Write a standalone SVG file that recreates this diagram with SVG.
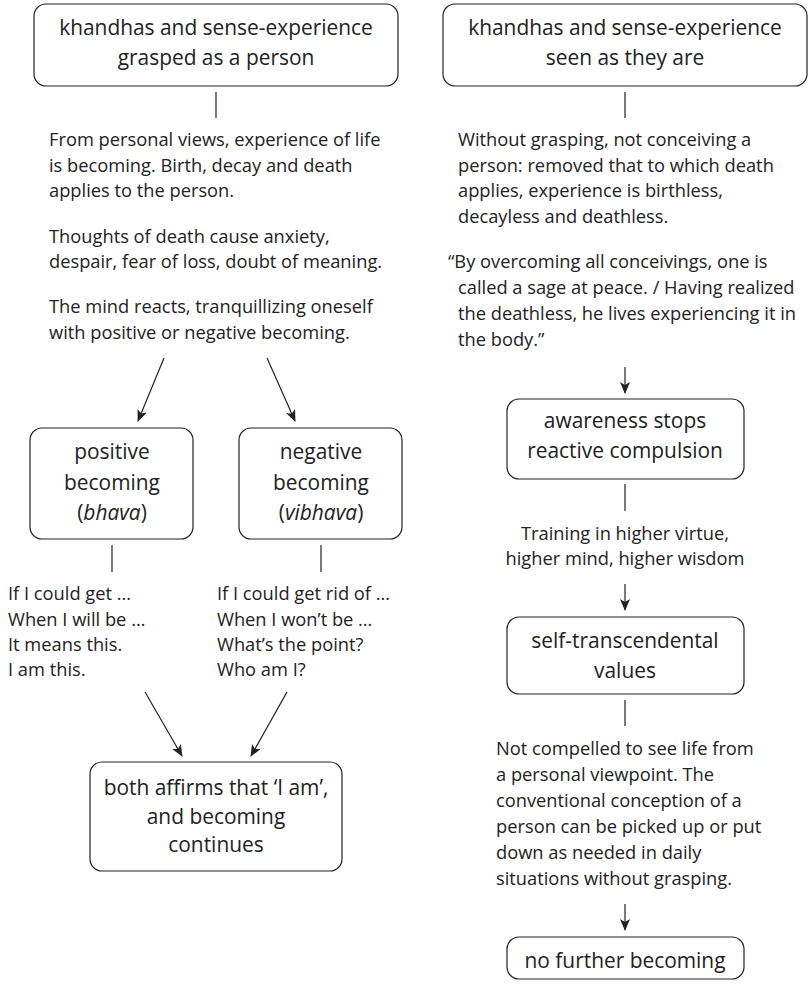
<svg xmlns="http://www.w3.org/2000/svg" width="809" height="984" viewBox="0 0 809 984">
<style>
.box{fill:#fff;stroke:#222;stroke-width:1.2}
.t{font-family:"Open Sans","Liberation Sans",sans-serif;fill:#222}
.b{font-size:20.9px;text-anchor:middle}
.p{font-size:18.3px}
.c{font-size:18.3px;text-anchor:middle}
.ln{stroke:#222;stroke-width:1.2;fill:none}
.ar{stroke:#222;stroke-width:1.2;fill:none;marker-end:url(#ah)}
</style>
<defs>
<marker id="ah" viewBox="0 0 12 10" refX="11" refY="5" markerWidth="12" markerHeight="10" markerUnits="userSpaceOnUse" orient="auto">
<path d="M0,0 L12,5 L0,10 L3,5 Z" fill="#222"/>
</marker>
</defs>
<rect width="809" height="984" fill="#fff"/>
<g id="connectors">
<line class="ln" x1="216" y1="92" x2="216" y2="118"/>
<line class="ln" x1="625" y1="92" x2="625" y2="118"/>
<line class="ar" x1="164" y1="358" x2="138" y2="421"/>
<line class="ar" x1="267" y1="358" x2="295" y2="421"/>
<line class="ln" x1="112" y1="545" x2="112" y2="572"/>
<line class="ln" x1="321" y1="545" x2="321" y2="572"/>
<line class="ar" x1="145" y1="692" x2="182" y2="756"/>
<line class="ar" x1="287" y1="692" x2="251" y2="756"/>
<line class="ar" x1="625" y1="367" x2="625" y2="393"/>
<line class="ln" x1="625" y1="484" x2="625" y2="511"/>
<line class="ar" x1="625" y1="584" x2="625" y2="610"/>
<line class="ln" x1="625" y1="700" x2="625" y2="726"/>
<line class="ar" x1="625" y1="904" x2="625" y2="930"/>
</g>
<g id="node-grasped">
<rect class="box" x="34" y="4" width="364" height="82" rx="12"/>
<text class="t b" x="216" y="35">khandhas and sense-experience</text>
<text class="t b" x="216" y="65">grasped as a person</text>
</g>
<g id="text-left">
<text class="t p" x="49" y="146">From personal views, experience of life</text>
<text class="t p" x="49" y="172">is becoming. Birth, decay and death</text>
<text class="t p" x="49" y="197">applies to the person.</text>
<text class="t p" x="49" y="243">Thoughts of death cause anxiety,</text>
<text class="t p" x="49" y="268">despair, fear of loss, doubt of meaning.</text>
<text class="t p" x="49" y="313">The mind reacts, tranquillizing oneself</text>
<text class="t p" x="49" y="339">with positive or negative becoming.</text>
</g>
<g id="node-positive">
<rect class="box" x="30" y="428" width="163" height="111" rx="12"/>
<text class="t b" x="112" y="459">positive</text>
<text class="t b" x="112" y="490">becoming</text>
<text class="t b" x="112" y="520">(<tspan font-style="italic">bhava</tspan>)</text>
</g>
<g id="node-negative">
<rect class="box" x="239" y="428" width="163" height="111" rx="12"/>
<text class="t b" x="321" y="459">negative</text>
<text class="t b" x="321" y="490">becoming</text>
<text class="t b" x="321" y="520">(<tspan font-style="italic">vibhava</tspan>)</text>
</g>
<g id="text-positive">
<text class="t p" x="8" y="600">If I could get …</text>
<text class="t p" x="8" y="626">When I will be …</text>
<text class="t p" x="8" y="651">It means this.</text>
<text class="t p" x="8" y="676">I am this.</text>
</g>
<g id="text-negative">
<text class="t p" x="217" y="600">If I could get rid of …</text>
<text class="t p" x="217" y="626">When I won’t be …</text>
<text class="t p" x="217" y="651">What’s the point?</text>
<text class="t p" x="217" y="676">Who am I?</text>
</g>
<g id="node-both">
<rect class="box" x="90" y="762" width="252" height="109" rx="12"/>
<text class="t b" x="216" y="795">both affirms that ‘I am’,</text>
<text class="t b" x="216" y="824">and becoming</text>
<text class="t b" x="216" y="852">continues</text>
</g>
<g id="node-seen">
<rect class="box" x="443" y="4" width="364" height="82" rx="12"/>
<text class="t b" x="625" y="35">khandhas and sense-experience</text>
<text class="t b" x="625" y="65">seen as they are</text>
</g>
<g id="text-right">
<text class="t p" x="458" y="146">Without grasping, not conceiving a</text>
<text class="t p" x="458" y="172">person: removed that to which death</text>
<text class="t p" x="458" y="197">applies, experience is birthless,</text>
<text class="t p" x="458" y="223">decayless and deathless.</text>
<text class="t p" x="448" y="268">“By overcoming all conceivings, one is</text>
<text class="t p" x="458" y="294">called a sage at peace. / Having realized</text>
<text class="t p" x="458" y="320">the deathless, he lives experiencing it in</text>
<text class="t p" x="458" y="346">the body.”</text>
</g>
<g id="node-awareness">
<rect class="box" x="507" y="399" width="237" height="80" rx="12"/>
<text class="t b" x="625" y="428">awareness stops</text>
<text class="t b" x="625" y="458">reactive compulsion</text>
</g>
<g id="text-training">
<text class="t c" x="625" y="540">Training in higher virtue,</text>
<text class="t c" x="625" y="565">higher mind, higher wisdom</text>
</g>
<g id="node-values">
<rect class="box" x="507" y="617" width="237" height="77" rx="12"/>
<text class="t b" x="625" y="648">self-transcendental</text>
<text class="t b" x="625" y="678">values</text>
</g>
<g id="text-notcompelled">
<text class="t p" x="496" y="755">Not compelled to see life from</text>
<text class="t p" x="496" y="781">a personal viewpoint. The</text>
<text class="t p" x="496" y="807">conventional conception of a</text>
<text class="t p" x="496" y="833">person can be picked up or put</text>
<text class="t p" x="496" y="859">down as needed in daily</text>
<text class="t p" x="496" y="885">situations without grasping.</text>
</g>
<g id="node-nofurther">
<rect class="box" x="507" y="937" width="237" height="42" rx="12"/>
<text class="t b" x="625" y="968">no further becoming</text>
</g>
</svg>
